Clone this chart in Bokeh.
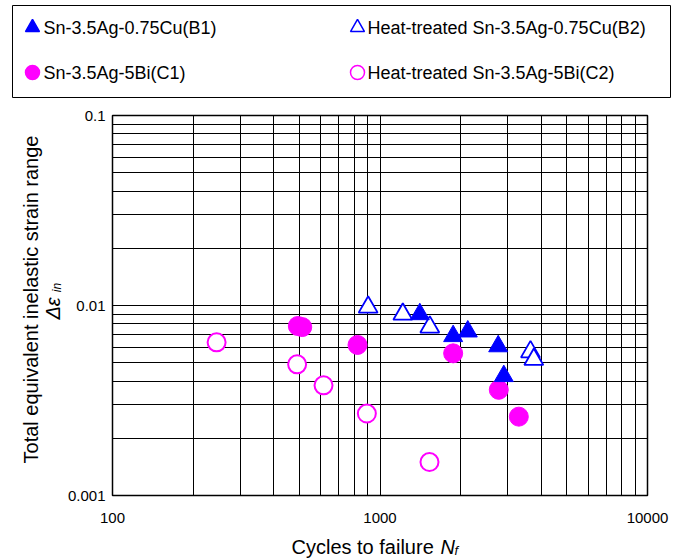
import math
from bokeh.plotting import figure
from bokeh.layouts import column, row
from bokeh.models import FixedTicker, Range1d, BoxAnnotation, ColumnDataSource
from bokeh.core.properties import value
from bokeh.embed import file_html
from bokeh.resources import INLINE

# ---- data ----
b1_x = [1409, 1877, 2129, 2766, 2903]
b1_y = [0.0090, 0.0069, 0.0073, 0.0061, 0.00425]
b2_x = [903, 1217, 1535, 3652, 3758]
b2_y = [0.0098, 0.0090, 0.0077, 0.0057, 0.0052]
c1_x = [493, 512, 824, 1877, 2780, 3303]
c1_y = [0.0078, 0.0077, 0.0062, 0.0056, 0.0036, 0.0026]
c2_x = [245, 490, 615, 893, 1531]
c2_y = [0.0064, 0.0049, 0.0038, 0.0027, 0.0015]

series_names = ["Sn-3.5Ag-0.75Cu(B1)", "Heat-treated Sn-3.5Ag-0.75Cu(B2)",
                "Sn-3.5Ag-5Bi(C1)", "Heat-treated Sn-3.5Ag-5Bi(C2)"]

x_ticks = [100, 1000, 10000]
x_tick_labels = ["100", "1000", "10000"]
y_ticks = [0.001, 0.01, 0.1]
y_tick_labels = ["0.001", "0.01", "0.1"]

x_title = "Cycles to failure"
x_title_sym, x_title_sub = "N", "f"
y_title = "Total equivalent inelastic strain range"
y_title_sym, y_title_sub = "Δε", "in"

BLUE = "#0000FF"
MAG = "#FF00FF"
FONT = "Liberation Sans"
W = 680


def minors(lo_exp, hi_exp):
    out = []
    for e in range(lo_exp, hi_exp):
        for k in range(2, 10):
            out.append(k * 10 ** e)
    return out


def blank(w, h):
    f = figure(width=w, height=h, x_range=Range1d(0, w), y_range=Range1d(0, h),
               x_axis_type=None, y_axis_type=None, toolbar_location=None,
               output_backend="svg", min_border=0, outline_line_color=None,
               frame_align=False)
    f.grid.visible = False
    return f


# ---- legend panel (page y 0..105) ----
LH = 105
leg = blank(W, LH)
leg.add_layout(BoxAnnotation(left=12, right=670, top=LH - 5, bottom=LH - 97,
                             fill_alpha=0, line_color="black", line_width=1,
                             line_alpha=1))
leg_src = ColumnDataSource(dict(
    mx=[32, 357, 32, 357], my=[LH - 27, LH - 27, LH - 72, LH - 72],
    tx=[43, 367, 43, 367],
    marker=["triangle", "triangle", "circle", "circle"],
    fill=[BLUE, "white", MAG, "white"], line=[BLUE, BLUE, MAG, MAG],
    label=series_names))
leg.scatter("mx", "my", marker="marker", size=14, fill_color="fill",
            line_color="line", line_width=1.5, source=leg_src)
leg.text("tx", "my", text="label", text_font=value(FONT),
         text_font_size="18px", text_baseline="middle", text_align="left",
         text_color="black", source=leg_src)

# ---- y title panel (page x 0..64, y 105..533) ----
MH = 428
YW = 64
yt_fig = blank(YW, MH)
yt_fig.text([30], [MH - 194], text=[y_title], angle=math.pi / 2,
            text_font=value(FONT), text_font_size="20px",
            text_align="center", text_baseline="middle", text_color="black")
yt_fig.text([52.7], [MH - 203], text=[y_title_sym], angle=math.pi / 2,
            text_font=value(FONT), text_font_size="20px", text_font_style="italic",
            text_align="center", text_baseline="middle", text_color="black")
yt_fig.text([56.3], [MH - 182], text=[y_title_sub], angle=math.pi / 2,
            text_font=value(FONT), text_font_size="12px", text_font_style="italic",
            text_align="center", text_baseline="middle", text_color="black")

# ---- main plot ----
p = figure(width=W - YW, height=MH, x_axis_type="log", y_axis_type="log",
           x_range=Range1d(100, 10000), y_range=Range1d(0.001, 0.1),
           toolbar_location=None, output_backend="svg", frame_align=False,
           min_border_left=112 - YW, min_border_right=W - 647, min_border_top=10,
           min_border_bottom=38, outline_line_color="black", outline_line_width=1.5,
           background_fill_color="white", border_fill_color="white")

xt = FixedTicker(ticks=x_ticks, minor_ticks=minors(2, 4))
yt = FixedTicker(ticks=y_ticks, minor_ticks=minors(-3, -1))
p.xaxis.ticker = xt
p.yaxis.ticker = yt
p.xgrid.ticker = xt
p.ygrid.ticker = yt
p.xaxis.major_label_overrides = {t: s for t, s in zip(x_ticks, x_tick_labels)}
p.yaxis.major_label_overrides = {t: s for t, s in zip(y_ticks, y_tick_labels)}

for ax in (p.xaxis, p.yaxis):
    ax.axis_line_color = None
    ax.major_tick_line_color = None
    ax.minor_tick_line_color = None
    ax.major_tick_out = 0
    ax.minor_tick_out = 0
    ax.major_label_text_font = FONT
    ax.major_label_text_font_size = "15px"
    ax.major_label_text_color = "black"
p.xaxis.major_label_standoff = 17
p.yaxis.major_label_standoff = 7

for g in (p.xgrid, p.ygrid):
    g.grid_line_color = "black"
    g.grid_line_width = 1
    g.grid_line_alpha = 1
    g.minor_grid_line_color = "black"
    g.minor_grid_line_width = 1
    g.minor_grid_line_alpha = 1

p.scatter(c2_x, c2_y, marker="circle", size=18, fill_color="white",
          line_color=MAG, line_width=2)
p.scatter(c1_x, c1_y, marker="circle", size=19, fill_color=MAG, line_color=MAG)
p.scatter(b2_x, b2_y, marker="triangle", size=19, fill_color="white",
          line_color=BLUE, line_width=1.8)
p.scatter(b1_x, b1_y, marker="triangle", size=19, fill_color=BLUE, line_color=BLUE)

# ---- x title panel (page y 533..558) ----
XH = 25
xt_fig = blank(W, XH)
xt_fig.text([291], [XH - 13], text=[x_title], text_font=value(FONT),
            text_font_size="20px", text_align="left", text_baseline="middle",
            text_color="black")
xt_fig.text([440], [XH - 13], text=[x_title_sym], text_font=value(FONT),
            text_font_size="20px", text_font_style="italic", text_align="left",
            text_baseline="middle", text_color="black")
xt_fig.text([454], [XH - 17], text=[x_title_sub], text_font=value(FONT),
            text_font_size="13px", text_font_style="italic", text_align="left",
            text_baseline="middle", text_color="black")

layout = column(leg, row(yt_fig, p, spacing=0), xt_fig, spacing=0)
open("out.html", "w").write(file_html(layout, INLINE))
